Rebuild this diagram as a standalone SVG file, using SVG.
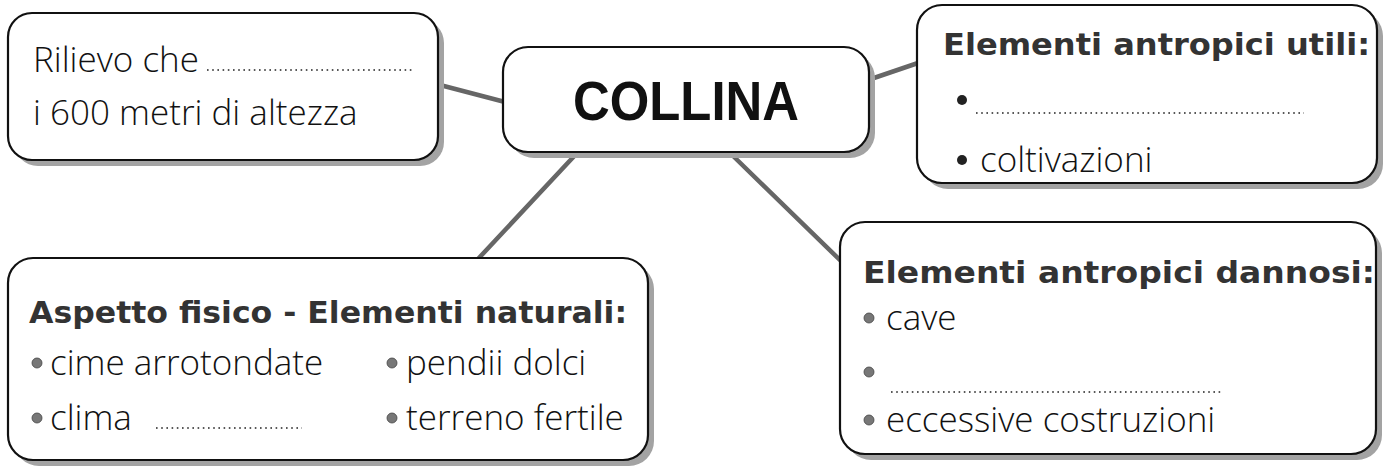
<svg xmlns="http://www.w3.org/2000/svg" width="1388" height="469" viewBox="0 0 1388 469">
<style>
.box{fill:#fff;stroke:#111;stroke-width:2.2}
.sh{fill:#a3a3a3}
.conn{stroke:#666;stroke-width:4.5;stroke-linecap:round;fill:none}
.body{font-family:"Open Sans","Noto Sans",sans-serif;font-weight:300;font-size:35px;fill:#111}
.title{font-family:"DejaVu Sans",sans-serif;font-weight:bold;font-size:31px;fill:#333}
.main{font-family:"Liberation Sans",Arial,sans-serif;font-weight:bold;font-size:55px;fill:#111}
.dots{stroke:#222;stroke-width:1.6;stroke-dasharray:1.6 3.6;fill:none}
.bul{fill:#777;stroke:#444;stroke-width:0.8}
.bulk{fill:#222}
</style>
<rect width="1388" height="469" fill="#fff"/>
<g id="connectors">
<line class="conn" x1="440" y1="85" x2="505" y2="102"/>
<line class="conn" x1="868" y1="80" x2="918" y2="63"/>
<line class="conn" x1="578" y1="152" x2="478" y2="259"/>
<line class="conn" x1="728" y1="151" x2="843" y2="263"/>
</g>
<g id="node-rilievo">
<rect class="sh" x="14" y="19" width="430" height="147" rx="24"/>
<rect class="box" x="8" y="13" width="430" height="147" rx="24"/>
<text class="body" x="33" y="72">Rilievo che</text>
<line class="dots" x1="207" y1="70" x2="414" y2="70"/>
<text class="body" x="33" y="125">i 600 metri di altezza</text>
</g>
<g id="node-collina">
<rect class="sh" x="509" y="53" width="366" height="105" rx="25"/>
<rect class="box" x="503" y="47" width="366" height="105" rx="25"/>
<text class="main" x="686" y="120" text-anchor="middle" textLength="226" lengthAdjust="spacingAndGlyphs">COLLINA</text>
</g>
<g id="node-utili">
<rect class="sh" x="923" y="11" width="460" height="178" rx="25"/>
<rect class="box" x="917" y="5" width="460" height="178" rx="25"/>
<text class="title" x="943" y="55" textLength="427" lengthAdjust="spacingAndGlyphs">Elementi antropici utili:</text>
<circle class="bulk" cx="962" cy="100" r="5"/>
<line class="dots" x1="976" y1="113" x2="1304" y2="113"/>
<circle class="bulk" cx="962" cy="160" r="5"/>
<text class="body" x="980" y="172">coltivazioni</text>
</g>
<g id="node-naturali">
<rect class="sh" x="14" y="264" width="640" height="202" rx="25"/>
<rect class="box" x="8" y="258" width="640" height="202" rx="25"/>
<text class="title" x="29" y="323" textLength="598" lengthAdjust="spacingAndGlyphs">Aspetto fisico - Elementi naturali:</text>
<circle class="bul" cx="37" cy="363" r="5"/>
<text class="body" x="50" y="375">cime arrotondate</text>
<circle class="bul" cx="392" cy="363" r="5"/>
<text class="body" x="406" y="375">pendii dolci</text>
<circle class="bul" cx="37" cy="418" r="5"/>
<text class="body" x="50" y="430">clima</text>
<line class="dots" x1="156" y1="428" x2="302" y2="428"/>
<circle class="bul" cx="392" cy="418" r="5"/>
<text class="body" x="406" y="430">terreno fertile</text>
</g>
<g id="node-dannosi">
<rect class="sh" x="846" y="228" width="536" height="232" rx="25"/>
<rect class="box" x="840" y="222" width="536" height="232" rx="25"/>
<text class="title" x="863" y="283" textLength="512" lengthAdjust="spacingAndGlyphs">Elementi antropici dannosi:</text>
<circle class="bul" cx="869" cy="318" r="5"/>
<text class="body" x="886" y="330">cave</text>
<circle class="bul" cx="869" cy="372" r="5"/>
<line class="dots" x1="891" y1="392" x2="1223" y2="392"/>
<circle class="bul" cx="869" cy="420" r="5"/>
<text class="body" x="886" y="432">eccessive costruzioni</text>
</g>
</svg>
